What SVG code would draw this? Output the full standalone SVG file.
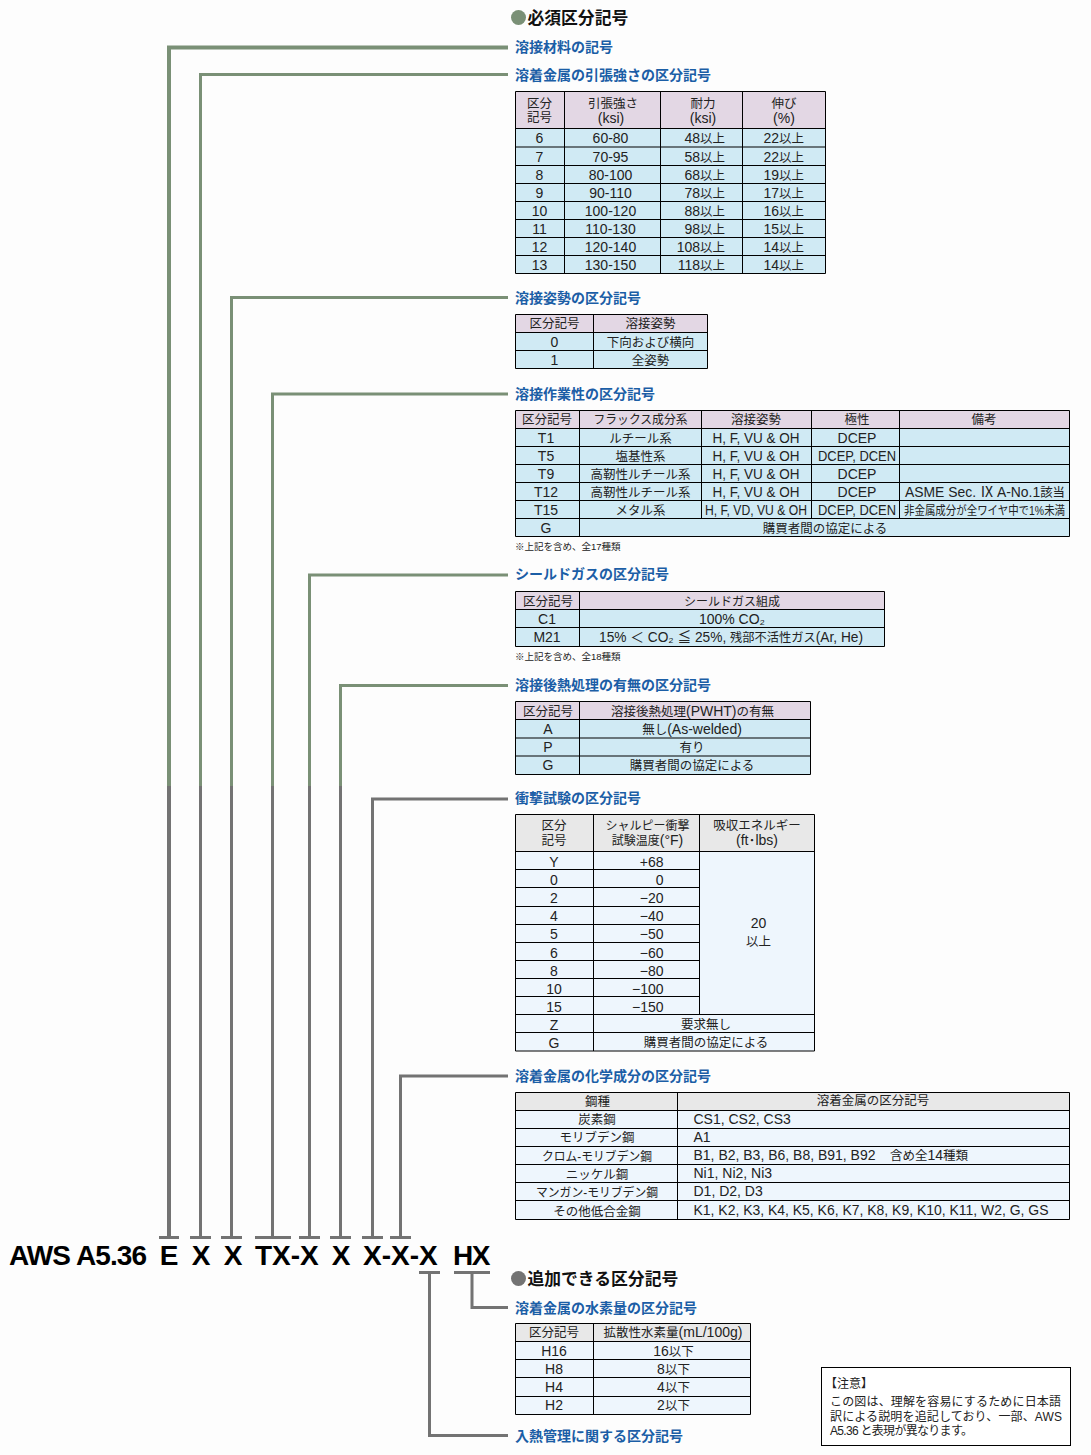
<svg xmlns="http://www.w3.org/2000/svg" width="1091" height="1455" viewBox="0 0 1091 1455">
<style>
text{font-family:"Liberation Sans","Noto Sans CJK JP",sans-serif;fill:#222;font-size:14px}
.m{text-anchor:middle}.r{text-anchor:end}
.j{font-size:12.5px}
.h{font-size:14px;font-weight:700;fill:#1b5ea6}
.t{font-size:16.8px;font-weight:700;fill:#111}
.b{font-size:28px;font-weight:700;fill:#000}
.n{font-size:9.5px}
.z{font-size:12px}
.g{fill:none;stroke:#7a9076;stroke-width:3}
.k{fill:none;stroke:#737373;stroke-width:3}
.ln{fill:none;stroke:#000;stroke-width:1}
.p{fill:#e3d7e4}.c{fill:#d0eaf4}.e{fill:#e8e8e8}.l{fill:#eef6fd}
</style>
<rect width="1091" height="1455" fill="#fdfdfd"/>
<g id="connectors">
<path class="g" d="M169 786V47.5H508" style="stroke-width:4"/>
<path class="g" d="M200.500 786V74.500H508"/>
<path class="g" d="M231.500 786V297.500H508"/>
<path class="g" d="M272.500 786V394H508"/>
<path class="g" d="M309.500 786V575H508"/>
<path class="g" d="M340.500 786V685.500H508"/>
<path class="k" d="M169 786V1237" style="stroke-width:4"/>
<path class="k" d="M200.500 786V1237"/>
<path class="k" d="M231.500 786V1237"/>
<path class="k" d="M272.500 786V1237"/>
<path class="k" d="M309.500 786V1237"/>
<path class="k" d="M340.500 786V1237"/>
<path class="k" d="M372.500 1237V799H508"/>
<path class="k" d="M400.500 1237V1076H508"/>
<path class="k" d="M159 1237.500H179M190 1237.500H211M221 1237.500H242M255 1237.500H291M299 1237.500H320M330 1237.500H351M362 1237.500H383M390 1237.500H411"/>
<path class="k" d="M419 1272.500H440M454 1272.500H490"/>
<path class="k" d="M429.500 1272.500V1435.500H508"/>
<path class="k" d="M472 1272.500V1307.500H508"/>
</g>
<g id="code">
<text class="b" x="9" y="1265" style="letter-spacing:-.9px">AWS A5.36</text>
<text class="b m" x="169" y="1265">E</text>
<text class="b m" x="201" y="1265">X</text>
<text class="b m" x="233" y="1265">X</text>
<text class="b" x="255" y="1265">TX-X</text>
<text class="b m" x="341" y="1265">X</text>
<text class="b" x="363" y="1265">X-X-X</text>
<text class="b" x="453" y="1265" style="letter-spacing:-1.5px">HX</text>
</g>
<g id="required-title">
<circle cx="518.500" cy="17.500" r="7.500" fill="#7a9076"/>
<text class="t" x="527.500" y="23.500">必須区分記号</text>
</g>
<g id="n-material"><text class="h" x="515" y="52">溶接材料の記号</text></g>
<g id="n-tensile">
<text class="h" x="515" y="80">溶着金属の引張強さの区分記号</text>
<rect class="p" x="515.500" y="91.500" width="310" height="37"/>
<rect class="c" x="515.500" y="128.500" width="310" height="145"/>
<path class="ln" d="M515.500 91.500H825.500V273.500H515.500ZM515.500 128.500H825.500M515.500 147H825.500M515.500 165.500H825.500M515.500 183.500H825.500M515.500 201.500H825.500M515.500 219.500H825.500M515.500 237.500H825.500M515.500 255.500H825.500M564.500 91.500V273.500M660.500 91.500V273.500M742.500 91.500V273.500"/>
<text class="m j" x="539.500" y="108">区分</text><text class="m j" x="539.500" y="122">記号</text>
<text class="m j" x="613" y="108">引張強さ</text><text class="m" x="611" y="122.500">(ksi)</text>
<text class="m j" x="703" y="108">耐力</text><text class="m" x="703" y="122.500">(ksi)</text>
<text class="m j" x="784" y="108">伸び</text><text class="m" x="784" y="122.500">(%)</text>
<text class="m" x="539.500" y="143">6</text><text class="m" x="610.500" y="143">60-80</text><text class="r" x="725" y="143">48<tspan class="j">以上</tspan></text><text class="r" x="804" y="143">22<tspan class="j">以上</tspan></text>
<text class="m" x="539.500" y="161.500">7</text><text class="m" x="610.500" y="161.500">70-95</text><text class="r" x="725" y="161.500">58<tspan class="j">以上</tspan></text><text class="r" x="804" y="161.500">22<tspan class="j">以上</tspan></text>
<text class="m" x="539.500" y="179.500">8</text><text class="m" x="610.500" y="179.500">80-100</text><text class="r" x="725" y="179.500">68<tspan class="j">以上</tspan></text><text class="r" x="804" y="179.500">19<tspan class="j">以上</tspan></text>
<text class="m" x="539.500" y="197.500">9</text><text class="m" x="610.500" y="197.500">90-110</text><text class="r" x="725" y="197.500">78<tspan class="j">以上</tspan></text><text class="r" x="804" y="197.500">17<tspan class="j">以上</tspan></text>
<text class="m" x="539.500" y="215.500">10</text><text class="m" x="610.500" y="215.500">100-120</text><text class="r" x="725" y="215.500">88<tspan class="j">以上</tspan></text><text class="r" x="804" y="215.500">16<tspan class="j">以上</tspan></text>
<text class="m" x="539.500" y="233.500">11</text><text class="m" x="610.500" y="233.500">110-130</text><text class="r" x="725" y="233.500">98<tspan class="j">以上</tspan></text><text class="r" x="804" y="233.500">15<tspan class="j">以上</tspan></text>
<text class="m" x="539.500" y="251.500">12</text><text class="m" x="610.500" y="251.500">120-140</text><text class="r" x="725" y="251.500">108<tspan class="j">以上</tspan></text><text class="r" x="804" y="251.500">14<tspan class="j">以上</tspan></text>
<text class="m" x="539.500" y="270">13</text><text class="m" x="610.500" y="270">130-150</text><text class="r" x="725" y="270">118<tspan class="j">以上</tspan></text><text class="r" x="804" y="270">14<tspan class="j">以上</tspan></text>
</g>
<g id="n-position">
<text class="h" x="515" y="303">溶接姿勢の区分記号</text>
<rect class="p" x="515.500" y="314.500" width="192" height="18"/>
<rect class="c" x="515.500" y="332.500" width="192" height="36"/>
<path class="ln" d="M515.500 314.500H707.500V368.500H515.500ZM515.500 332.500H707.500M515.500 350.500H707.500M593.500 314.500V368.500"/>
<text class="m j" x="554.500" y="328">区分記号</text><text class="m j" x="650.500" y="328">溶接姿勢</text>
<text class="m" x="554.500" y="347">0</text><text class="m j" x="650.500" y="347">下向および横向</text>
<text class="m" x="554.500" y="365">1</text><text class="m j" x="650.500" y="365">全姿勢</text>
</g>
<g id="n-usability">
<text class="h" x="515" y="399">溶接作業性の区分記号</text>
<rect class="p" x="515.500" y="410.500" width="554" height="18"/>
<rect class="c" x="515.500" y="428.500" width="554" height="108"/>
<path class="ln" d="M515.500 410.500H1069.500V536.500H515.500ZM515.500 428.500H1069.500M515.500 446.500H1069.500M515.500 464.500H1069.500M515.500 482.500H1069.500M515.500 500.500H1069.500M515.500 518.500H1069.500M579.500 410.500V536.500M701.500 410.500V518.500M811.500 410.500V518.500M899.500 410.500V518.500"/>
<text class="m j" x="547" y="424">区分記号</text><text class="m j" x="640.500" y="424" textLength="94" lengthAdjust="spacingAndGlyphs">フラックス成分系</text><text class="m j" x="756" y="424">溶接姿勢</text><text class="m j" x="857" y="424">極性</text><text class="m j" x="984" y="424">備考</text>
<text class="m" x="546" y="442.500">T1</text><text class="m j" x="640.500" y="442.500">ルチール系</text><text class="m" x="756" y="442.500" textLength="87" lengthAdjust="spacingAndGlyphs">H, F, VU &amp; OH</text><text class="m" x="857" y="442.500">DCEP</text>
<text class="m" x="546" y="460.500">T5</text><text class="m j" x="640.500" y="460.500">塩基性系</text><text class="m" x="756" y="460.500" textLength="87" lengthAdjust="spacingAndGlyphs">H, F, VU &amp; OH</text><text class="m" x="857" y="460.500" textLength="78" lengthAdjust="spacingAndGlyphs">DCEP, DCEN</text>
<text class="m" x="546" y="478.500">T9</text><text class="m j" x="640.500" y="478.500">高靭性ルチール系</text><text class="m" x="756" y="478.500" textLength="87" lengthAdjust="spacingAndGlyphs">H, F, VU &amp; OH</text><text class="m" x="857" y="478.500">DCEP</text>
<text class="m" x="546" y="496.500">T12</text><text class="m j" x="640.500" y="496.500">高靭性ルチール系</text><text class="m" x="756" y="496.500" textLength="87" lengthAdjust="spacingAndGlyphs">H, F, VU &amp; OH</text><text class="m" x="857" y="496.500">DCEP</text><text x="905" y="496.500" textLength="160" lengthAdjust="spacingAndGlyphs">ASME Sec. Ⅸ A-No.1<tspan class="j">該当</tspan></text>
<text class="m" x="546" y="514.500">T15</text><text class="m j" x="640.500" y="514.500">メタル系</text><text class="m" x="756" y="514.500" textLength="102" lengthAdjust="spacingAndGlyphs">H, F, VD, VU &amp; OH</text><text class="m" x="857" y="514.500" textLength="78" lengthAdjust="spacingAndGlyphs">DCEP, DCEN</text><text transform="translate(904 514.500) scale(.85 1)" x="0" y="0" style="font-size:12.3px">非金属成分が全ワイヤ中で1%未満</text>
<text class="m" x="546" y="532.500">G</text><text class="m j" x="825" y="532.500">購買者間の協定による</text>
<text class="n" x="515" y="550">※上記を含め、全17種類</text>
</g>
<g id="n-gas">
<text class="h" x="515" y="579">シールドガスの区分記号</text>
<rect class="p" x="515.500" y="591.500" width="369" height="18"/>
<rect class="c" x="515.500" y="609.500" width="369" height="37"/>
<path class="ln" d="M515.500 591.500H884.500V646.500H515.500ZM515.500 609.500H884.500M515.500 627.500H884.500M579.500 591.500V646.500"/>
<text class="m j" x="548" y="605.500">区分記号</text><text class="m z" x="732" y="605.500">シールドガス組成</text>
<text class="m" x="547" y="623.500">C1</text><text class="m" x="732" y="623.500">100% CO₂</text>
<text class="m" x="547" y="642">M21</text><text class="m" x="731" y="642" textLength="264" lengthAdjust="spacingAndGlyphs">15% ＜ CO₂ ≦ 25%, <tspan class="j">残部不活性ガス</tspan>(Ar, He)</text>
<text class="n" x="515" y="660">※上記を含め、全18種類</text>
</g>
<g id="n-pwht">
<text class="h" x="515" y="690">溶接後熱処理の有無の区分記号</text>
<rect class="p" x="515.500" y="701.500" width="295" height="18"/>
<rect class="c" x="515.500" y="719.500" width="295" height="55"/>
<path class="ln" d="M515.500 701.500H810.500V774.500H515.500ZM515.500 719.500H810.500M515.500 738H810.500M515.500 756H810.500M579.500 701.500V774.500"/>
<text class="m j" x="548" y="715.500">区分記号</text><text class="m" x="692.500" y="715.500"><tspan class="j">溶接後熱処理</tspan>(PWHT)<tspan class="j">の有無</tspan></text>
<text class="m" x="548" y="734">A</text><text class="m" x="692" y="734"><tspan class="j">無し</tspan>(As-welded)</text>
<text class="m" x="548" y="752">P</text><text class="m j" x="692" y="752">有り</text>
<text class="m" x="548" y="770">G</text><text class="m j" x="692" y="770">購買者間の協定による</text>
</g>
<g id="n-impact">
<text class="h" x="515" y="803">衝撃試験の区分記号</text>
<rect class="e" x="515.500" y="814.500" width="299" height="37"/>
<rect class="l" x="515.500" y="851.500" width="299" height="199.500"/>
<path class="ln" d="M515.500 814.500H814.500V1051H515.500ZM515.500 851.500H814.500M515.500 869.500H699.500M515.500 887.500H699.500M515.500 906.500H699.500M515.500 924.500H699.500M515.500 942.500H699.500M515.500 960.500H699.500M515.500 978.500H699.500M515.500 996.500H699.500M515.500 1014.500H814.500M515.500 1032.500H814.500M593.500 814.500V1051M699.500 814.500V1014.500"/>
<text class="m j" x="554" y="830">区分</text><text class="m j" x="554" y="845">記号</text>
<text class="m z" x="647.500" y="830">シャルピー衝撃</text><text class="m" x="647.500" y="845"><tspan class="z">試験温度</tspan>(°F)</text>
<text class="m j" x="757" y="830">吸収エネルギー</text><text class="m" x="757" y="844.500">(ft･lbs)</text>
<text class="m" x="554" y="866.500">Y</text><text class="r" x="663.500" y="866.500">+68</text>
<text class="m" x="554" y="884.500">0</text><text class="r" x="663.500" y="884.500">0</text>
<text class="m" x="554" y="902.500">2</text><text class="r" x="663.500" y="902.500">−20</text>
<text class="m" x="554" y="920.500">4</text><text class="r" x="663.500" y="920.500">−40</text>
<text class="m" x="554" y="938.500">5</text><text class="r" x="663.500" y="938.500">−50</text>
<text class="m" x="554" y="957.500">6</text><text class="r" x="663.500" y="957.500">−60</text>
<text class="m" x="554" y="975.500">8</text><text class="r" x="663.500" y="975.500">−80</text>
<text class="m" x="554" y="993.500">10</text><text class="r" x="663.500" y="993.500">−100</text>
<text class="m" x="554" y="1011.500">15</text><text class="r" x="663.500" y="1011.500">−150</text>
<text class="m" x="554" y="1029.500">Z</text><text class="m j" x="706" y="1029">要求無し</text>
<text class="m" x="554" y="1047.500">G</text><text class="m j" x="706" y="1047">購買者間の協定による</text>
<text class="m" x="758.500" y="928">20</text><text class="m j" x="758.500" y="946">以上</text>
</g>
<g id="n-chem">
<text class="h" x="515" y="1081">溶着金属の化学成分の区分記号</text>
<rect class="e" x="515.500" y="1092.500" width="554" height="18"/>
<rect class="l" x="515.500" y="1110.500" width="554" height="109"/>
<path class="ln" d="M515.500 1092.500H1069.500V1219.500H515.500ZM515.500 1110.500H1069.500M515.500 1128.500H1069.500M515.500 1146.500H1069.500M515.500 1164.500H1069.500M515.500 1182.500H1069.500M515.500 1200.500H1069.500M677.500 1092.500V1219.500"/>
<text class="m j" x="597.500" y="1106">鋼種</text><text class="m j" x="873" y="1105">溶着金属の区分記号</text>
<text class="m j" x="597" y="1124">炭素鋼</text><text x="693.500" y="1123.500">CS1, CS2, CS3</text>
<text class="m j" x="597" y="1142">モリブデン鋼</text><text x="693.500" y="1141.500">A1</text>
<text class="m j" x="597" y="1161" textLength="110" lengthAdjust="spacingAndGlyphs">クロム-モリブデン鋼</text><text x="693.500" y="1160" textLength="182" lengthAdjust="spacingAndGlyphs">B1, B2, B3, B6, B8, B91, B92</text><text x="890" y="1160"><tspan class="j">含め全</tspan>14<tspan class="j">種類</tspan></text>
<text class="m j" x="597" y="1179">ニッケル鋼</text><text x="693.500" y="1178">Ni1, Ni2, Ni3</text>
<text class="m j" x="597" y="1197" textLength="122" lengthAdjust="spacingAndGlyphs">マンガン-モリブデン鋼</text><text x="693.500" y="1196">D1, D2, D3</text>
<text class="m j" x="597" y="1215.500">その他低合金鋼</text><text x="693.500" y="1214.500" textLength="355" lengthAdjust="spacingAndGlyphs">K1, K2, K3, K4, K5, K6, K7, K8, K9, K10, K11, W2, G, GS</text>
</g>
<g id="optional-title">
<circle cx="518.500" cy="1278.500" r="7.500" fill="#737373"/>
<text class="t" x="527.500" y="1284.500">追加できる区分記号</text>
</g>
<g id="n-hydrogen">
<text class="h" x="515" y="1313">溶着金属の水素量の区分記号</text>
<rect class="e" x="515.500" y="1323.500" width="235" height="18"/>
<rect class="l" x="515.500" y="1341.500" width="235" height="73"/>
<path class="ln" d="M515.500 1323.500H750.500V1414.500H515.500ZM515.500 1341.500H750.500M515.500 1359.500H750.500M515.500 1377.500H750.500M515.500 1396.500H750.500M593.500 1323.500V1414.500"/>
<text class="m j" x="554" y="1337">区分記号</text><text class="m" x="673" y="1337"><tspan class="j">拡散性水素量</tspan>(mL/100g)</text>
<text class="m" x="554" y="1355.500">H16</text><text class="m" x="673.500" y="1355.500">16<tspan class="j">以下</tspan></text>
<text class="m" x="554" y="1373.500">H8</text><text class="m" x="673.500" y="1373.500">8<tspan class="j">以下</tspan></text>
<text class="m" x="554" y="1391.500">H4</text><text class="m" x="673.500" y="1391.500">4<tspan class="j">以下</tspan></text>
<text class="m" x="554" y="1409.500">H2</text><text class="m" x="673.500" y="1409.500">2<tspan class="j">以下</tspan></text>
</g>
<g id="n-heat"><text class="h" x="515" y="1441">入熱管理に関する区分記号</text></g>
<g id="note">
<rect x="821.500" y="1367.500" width="249" height="78" fill="#fff" stroke="#000"/>
<text class="z" x="825" y="1388">【注意】</text>
<text class="z" x="830" y="1406" textLength="231">この図は、理解を容易にするために日本語</text>
<text class="z" x="830" y="1420.500" textLength="232">訳による説明を追記しており、一部、AWS</text>
<text class="z" x="830" y="1435" textLength="143">A5.36 と表現が異なります。</text>
</g>
</svg>
